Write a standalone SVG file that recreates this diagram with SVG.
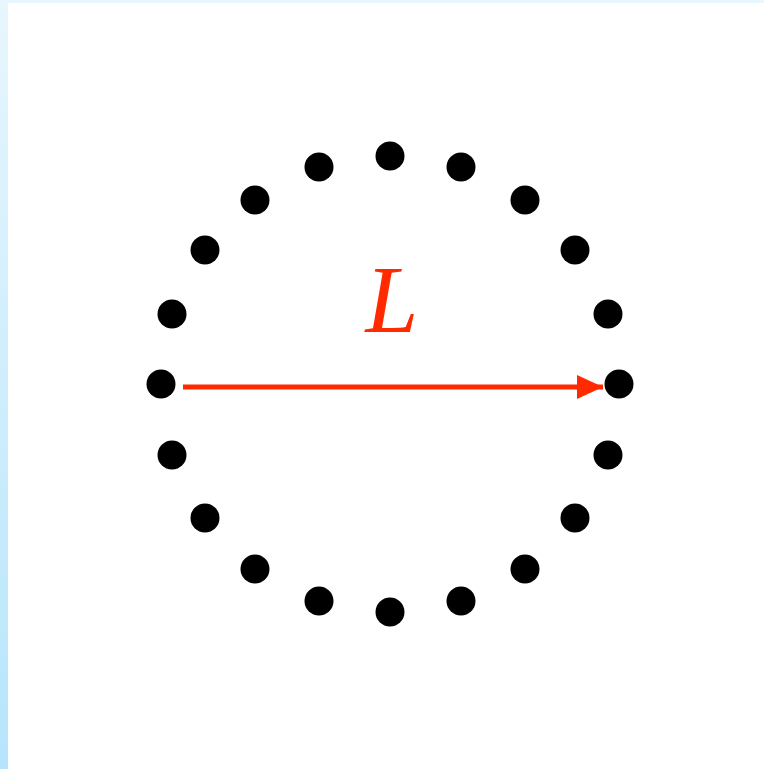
<svg xmlns="http://www.w3.org/2000/svg" width="764" height="769" viewBox="0 0 764 769">
<defs>
<linearGradient id="edge" x1="0" y1="0" x2="0" y2="1">
<stop offset="0" stop-color="#e8f6fd"/>
<stop offset="1" stop-color="#b6e5fb"/>
</linearGradient>
<marker id="arr" markerWidth="26" markerHeight="24" refX="26" refY="12" orient="auto" markerUnits="userSpaceOnUse">
<path d="M0,0 L26,12 L0,24 Z" fill="#ff2a00"/>
</marker>
<style>
.dot{fill:#000}
.lbl{font-family:"Liberation Serif",serif;font-style:italic;font-size:95px;fill:#ff2a00}
</style>
</defs>
<rect width="764" height="769" fill="#fff"/>
<rect x="0" y="0" width="764" height="3" fill="#e8f6fd"/>
<rect x="0" y="0" width="8" height="769" fill="url(#edge)"/>
<g id="dots">
<circle class="dot" cx="390" cy="156" r="14.5"/>
<circle class="dot" cx="461" cy="167" r="14.5"/>
<circle class="dot" cx="525" cy="200" r="14.5"/>
<circle class="dot" cx="575" cy="250" r="14.5"/>
<circle class="dot" cx="608" cy="314" r="14.5"/>
<circle class="dot" cx="619" cy="384" r="14.5"/>
<circle class="dot" cx="608" cy="455" r="14.5"/>
<circle class="dot" cx="575" cy="518" r="14.5"/>
<circle class="dot" cx="525" cy="569" r="14.5"/>
<circle class="dot" cx="461" cy="601" r="14.5"/>
<circle class="dot" cx="390" cy="612" r="14.5"/>
<circle class="dot" cx="319" cy="601" r="14.5"/>
<circle class="dot" cx="255" cy="569" r="14.5"/>
<circle class="dot" cx="205" cy="518" r="14.5"/>
<circle class="dot" cx="172" cy="455" r="14.5"/>
<circle class="dot" cx="161" cy="384" r="14.5"/>
<circle class="dot" cx="172" cy="314" r="14.5"/>
<circle class="dot" cx="205" cy="250" r="14.5"/>
<circle class="dot" cx="255" cy="200" r="14.5"/>
<circle class="dot" cx="319" cy="167" r="14.5"/>
</g>
<g id="connectors">
<line x1="183" y1="387" x2="603" y2="387" stroke="#ff2a00" stroke-width="5" marker-end="url(#arr)"/>
</g>
<g id="label">
<text class="lbl" x="392" y="332" text-anchor="middle">L</text>
</g>
</svg>
